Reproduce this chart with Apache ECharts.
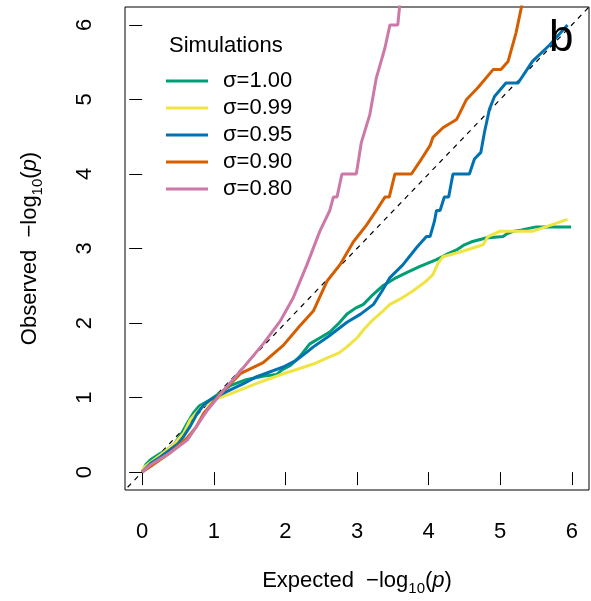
<!DOCTYPE html>
<html>
<head>
<meta charset="utf-8">
<script src="https://cdn.jsdelivr.net/npm/echarts@6/dist/echarts.min.js"></script>
<style>html,body{margin:0;padding:0;background:#fff}#c{width:591px;height:601px}</style>
</head>
<body>
<div id="c"></div>
<script>
var xTicks = [0, 1, 2, 3, 4, 5, 6];
var yTicks = [0, 1, 2, 3, 4, 5, 6];
var seriesNames = ['σ=1.00', 'σ=0.99', 'σ=0.95', 'σ=0.90', 'σ=0.80'];
var seriesColors = ['#009E73', '#F0E442', '#0072B2', '#D55E00', '#CC79A7'];
var diagonal = [[-0.3, -0.3], [6.3, 6.3]];

var sigma100 = [[0,0],[0.05,0.1],[0.12,0.17],[0.25,0.25],[0.35,0.3],[0.45,0.38],[0.55,0.52],[0.63,0.66],[0.72,0.8],[0.8,0.89],[0.95,0.97],[1.1,1.07],[1.23,1.16],[1.45,1.24],[1.7,1.29],[1.88,1.31],[1.95,1.37],[2.07,1.43],[2.2,1.55],[2.34,1.72],[2.48,1.8],[2.62,1.88],[2.75,2.0],[2.86,2.12],[2.98,2.2],[3.09,2.25],[3.2,2.36],[3.36,2.5],[3.55,2.61],[3.7,2.68],[3.88,2.76],[4.11,2.85],[4.25,2.92],[4.39,2.98],[4.5,3.05],[4.6,3.09],[4.8,3.14],[5.04,3.16],[5.1,3.2],[5.18,3.23],[5.3,3.25],[5.5,3.29],[5.99,3.29]];
var sigma099 = [[0,0],[0.02,0.06],[0.1,0.12],[0.3,0.26],[0.45,0.38],[0.58,0.52],[0.67,0.7],[0.76,0.8],[0.84,0.88],[1.0,0.97],[1.23,1.05],[1.6,1.19],[1.97,1.32],[2.2,1.39],[2.39,1.45],[2.6,1.54],[2.75,1.6],[2.86,1.68],[3.0,1.8],[3.1,1.92],[3.23,2.05],[3.35,2.15],[3.46,2.25],[3.6,2.32],[3.78,2.43],[3.95,2.55],[4.06,2.65],[4.13,2.8],[4.2,2.89],[4.39,2.94],[4.53,2.98],[4.76,3.05],[4.83,3.16],[4.99,3.23],[5.45,3.23],[5.94,3.39]];
var sigma095 = [[0,0],[0.12,0.12],[0.25,0.2],[0.39,0.3],[0.5,0.38],[0.58,0.48],[0.68,0.63],[0.77,0.79],[0.86,0.9],[0.95,0.97],[1.18,1.08],[1.4,1.18],[1.6,1.28],[1.97,1.41],[2.15,1.5],[2.3,1.61],[2.39,1.68],[2.6,1.82],[2.86,2.01],[3.05,2.12],[3.23,2.25],[3.35,2.43],[3.46,2.61],[3.64,2.78],[3.83,3.01],[3.97,3.16],[4.02,3.16],[4.08,3.36],[4.11,3.51],[4.16,3.51],[4.22,3.69],[4.28,3.69],[4.34,4.0],[4.57,4.0],[4.64,4.2],[4.73,4.29],[4.78,4.56],[4.85,4.87],[4.92,5.04],[5.08,5.22],[5.25,5.22],[5.45,5.51],[5.69,5.73],[5.94,6.0]];
var sigma090 = [[0,0],[0.12,0.08],[0.39,0.26],[0.63,0.46],[0.75,0.6],[0.86,0.79],[1.09,1.05],[1.37,1.32],[1.69,1.47],[1.97,1.7],[2.2,1.96],[2.39,2.16],[2.58,2.56],[2.76,2.78],[2.95,3.09],[3.13,3.31],[3.27,3.51],[3.39,3.69],[3.45,3.69],[3.53,4.0],[3.76,4.0],[3.9,4.2],[4.02,4.38],[4.06,4.49],[4.2,4.62],[4.39,4.73],[4.53,5.0],[4.69,5.16],[4.9,5.4],[5.01,5.4],[5.11,5.51],[5.22,5.89],[5.31,6.3]];
var sigma080 = [[0,0],[0.12,0.1],[0.39,0.26],[0.63,0.43],[0.91,0.83],[1.14,1.1],[1.42,1.41],[1.69,1.72],[1.93,2.03],[2.11,2.34],[2.3,2.78],[2.48,3.23],[2.62,3.51],[2.67,3.69],[2.72,3.69],[2.79,4.0],[2.99,4.0],[3.06,4.42],[3.18,4.8],[3.27,5.29],[3.39,5.69],[3.46,6.0],[3.57,6.0],[3.6,6.3]];
var seriesData = [sigma100, sigma099, sigma095, sigma090, sigma080];

var FONT = 'Liberation Sans, Arial, Helvetica, sans-serif';
var nameRich = {
  t: {fontSize: 22, fontFamily: FONT, color: '#000', lineHeight: 30},
  sub: {fontSize: 15, fontFamily: FONT, color: '#000', verticalAlign: 'bottom', lineHeight: 14},
  it: {fontSize: 22, fontFamily: FONT, fontStyle: 'italic', color: '#000', lineHeight: 30}
};

var chart = echarts.init(document.getElementById('c'), null, {renderer: 'canvas'});
var series = [{
  type: 'line', data: diagonal, showSymbol: false, silent: true,
  lineStyle: {color: '#000', width: 1.2, type: [5, 5]}, z: 1
}];
seriesData.forEach(function (d, i) {
  series.push({
    name: seriesNames[i], type: 'line', data: d, showSymbol: false,
    lineStyle: {color: seriesColors[i], width: 3}, itemStyle: {color: seriesColors[i]}, z: 2 + i
  });
});

chart.setOption({
  animation: false,
  backgroundColor: '#fff',
  grid: {left: 125, right: 2, top: 7, bottom: 108, show: true, borderColor: '#000', borderWidth: 1, backgroundColor: 'transparent'},
  title: [
    {text: 'Simulations', left: 164, top: 30, textStyle: {fontSize: 22, fontWeight: 'normal', fontFamily: FONT, color: '#000'}},
    {text: 'b', left: 544, top: 12, textStyle: {fontSize: 44, fontWeight: 'normal', fontFamily: FONT, color: '#000'}}
  ],
  legend: {
    orient: 'vertical', left: 161, top: 65, itemWidth: 42, itemHeight: 3, itemGap: 5, icon: 'rect',
    data: seriesNames,
    textStyle: {fontSize: 22, fontFamily: FONT, color: '#000', padding: [0, 0, 0, 10]}
  },
  xAxis: {
    type: 'value', min: -0.24, max: 6.24,
    axisLine: {show: false},
    axisTick: {show: true, inside: false, length: 13, lineStyle: {color: '#000'}, customValues: xTicks},
    axisLabel: {fontSize: 22, fontFamily: FONT, color: '#000', margin: 31, customValues: xTicks},
    splitLine: {show: false},
    name: '{t|Expected  −log}{sub|10}{t|(}{it|p}{t|)}', nameLocation: 'middle', nameGap: 76,
    nameTextStyle: {rich: nameRich}
  },
  yAxis: {
    type: 'value', min: -0.24, max: 6.24,
    axisLine: {show: false},
    axisTick: {show: true, inside: false, length: 13, lineStyle: {color: '#000'}, customValues: yTicks},
    axisLabel: {fontSize: 22, fontFamily: FONT, color: '#000', margin: 29, rotate: 90, customValues: yTicks},
    splitLine: {show: false},
    name: '{t|Observed  −log}{sub|10}{t|(}{it|p}{t|)}', nameLocation: 'middle', nameGap: 80, nameRotate: 90,
    nameTextStyle: {rich: nameRich}
  },
  series: series
});
</script>
</body>
</html>
